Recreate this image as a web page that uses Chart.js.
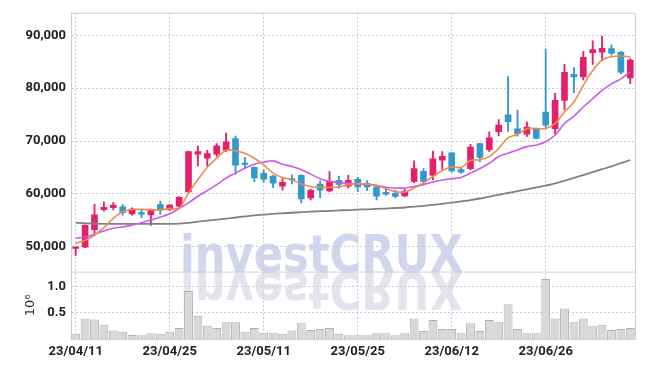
<!DOCTYPE html>
<html>
<head>
<meta charset="utf-8">
<script src="https://cdn.jsdelivr.net/npm/chart.js@4.4.0/dist/chart.umd.min.js"></script>
<style>
	html, body { margin: 0; padding: 0; background: #fff; }
	#wrap { width: 645px; height: 366px; }
</style>
</head>
<body>
<div id="wrap"><canvas id="chart"></canvas></div>
<script>
'use strict';

const dates = [
	'23/04/11', '23/04/12', '23/04/13', '23/04/14', '23/04/17', '23/04/18', '23/04/19', '23/04/20', '23/04/21', '23/04/24',
	'23/04/25', '23/04/26', '23/04/27', '23/04/28', '23/05/02', '23/05/03', '23/05/04', '23/05/08', '23/05/09', '23/05/10',
	'23/05/11', '23/05/12', '23/05/15', '23/05/16', '23/05/17', '23/05/18', '23/05/19', '23/05/22', '23/05/23', '23/05/24',
	'23/05/25', '23/05/26', '23/05/30', '23/05/31', '23/06/01', '23/06/02', '23/06/05', '23/06/07', '23/06/08', '23/06/09',
	'23/06/12', '23/06/13', '23/06/14', '23/06/15', '23/06/16', '23/06/19', '23/06/20', '23/06/21', '23/06/22', '23/06/23',
	'23/06/26', '23/06/27', '23/06/28', '23/06/29', '23/06/30', '23/07/03', '23/07/04', '23/07/05', '23/07/06', '23/07/07'
];

const opens = [
	49650, 49900, 53200, 57000, 57350, 57500, 56200, 56450, 56000, 57950,
	57050, 57650, 60350, 67500, 66750, 67500, 68250, 70450, 65750, 65000,
	63850, 63350, 61450, 62850, 63500, 59200, 61850, 60550, 62550, 61450,
	62750, 62000, 61300, 60250, 60100, 59600, 62350, 64250, 63500, 66350,
	67750, 64600, 64750, 69500, 68350, 71750, 74950, 72300, 71300, 72350,
	75500, 72350, 77700, 82650, 82150, 86750, 86850, 87500, 86800, 81950
];
const highs = [
	49700, 54100, 58000, 58450, 58350, 58000, 57350, 57100, 57100, 58600,
	57950, 59450, 68050, 69050, 68250, 69500, 71500, 70950, 66900, 65100,
	64550, 63500, 62950, 63600, 63600, 60900, 62400, 64200, 63350, 63500,
	63100, 62500, 61400, 61100, 60700, 60850, 66250, 64750, 68100, 68000,
	67800, 65000, 69350, 69600, 71750, 74050, 82200, 75850, 73650, 72450,
	87400, 79050, 84550, 83900, 87000, 89000, 89850, 88250, 87000, 85600
];
const lows = [
	48300, 49800, 52500, 56700, 56950, 55950, 55950, 55450, 54000, 56100,
	56850, 57550, 60300, 65300, 65300, 67100, 68000, 63700, 64850, 62300,
	62150, 61150, 60700, 61850, 58250, 58850, 59200, 60350, 61050, 61100,
	60400, 60600, 58850, 59700, 59200, 59450, 62100, 62000, 62600, 64600,
	64100, 63850, 64500, 66100, 68000, 70950, 71800, 70900, 70850, 70400,
	72350, 71400, 75950, 79150, 81600, 84500, 85250, 86250, 82700, 80850
];
const closes = [
	49700, 54000, 56000, 57450, 57850, 56400, 57100, 56150, 56950, 56900,
	57850, 59300, 68000, 68000, 67600, 69100, 69850, 65400, 65550, 63000,
	62750, 62000, 62150, 62600, 59000, 60650, 60700, 62350, 61750, 62550,
	61300, 61300, 59550, 59900, 59500, 60450, 64750, 62350, 66600, 67100,
	64350, 64100, 68850, 66900, 70600, 73000, 73650, 71450, 72650, 70500,
	73000, 77700, 83000, 82150, 85850, 87350, 87550, 86650, 83050, 85350
];

// moving averages
const ma5 = [
	50640, 51200, 52140, 53570, 55340, 56580, 57030, 57030, 56960, 56960,
	57200, 57330, 60150, 62670, 65040, 66730, 68240, 68120, 67670, 66730,
	65490, 63910, 63100, 62670, 61840, 61360, 61220, 61220, 61280, 61730,
	61920, 61840, 61560, 60980, 60410, 60340, 61090, 62030, 63290, 64360,
	65120, 64980, 66300, 66450, 67050, 68610, 70620, 71240, 72320, 72370,
	72370, 73310, 75510, 77390, 80530, 83350, 85350, 85980, 86100, 85980
];
const ma10 = [
	51580, 51820, 52330, 52950, 53460, 53700, 54080, 54510, 55020, 55580,
	56200, 57220, 58270, 59530, 60600, 61730, 62970, 63910, 64850, 65600,
	65980, 66240, 65600, 65170, 64550, 63720, 62860, 62350, 62110, 61980,
	61840, 61730, 61600, 61220, 61090, 61090, 61350, 61730, 62220, 62600,
	62860, 63100, 63910, 64800, 65790, 67050, 67670, 68310, 68930, 69250,
	69870, 71130, 73310, 74700, 76450, 78010, 79590, 80830, 81770, 83160
];
const ma60 = [
	54500, 54400, 54350, 54300, 54300, 54300, 54300, 54300, 54300, 54300,
	54300, 54350, 54500, 54700, 54900, 55100, 55300, 55500, 55700, 55900,
	56050, 56200, 56300, 56400, 56500, 56600, 56700, 56750, 56850, 56900,
	57000, 57050, 57150, 57200, 57300, 57400, 57550, 57700, 57900, 58100,
	58300, 58550, 58800, 59100, 59450, 59800, 60150, 60500, 60850, 61200,
	61550, 61950, 62450, 63000, 63550, 64100, 64650, 65200, 65800, 66400
];

// volume in millions of shares
const volumes = [
	0.10, 0.39, 0.37, 0.27, 0.16, 0.14, 0.075, 0.07, 0.11, 0.10,
	0.14, 0.21, 0.91, 0.44, 0.25, 0.21, 0.32, 0.32, 0.14, 0.21,
	0.12, 0.12, 0.10, 0.16, 0.30, 0.17, 0.19, 0.21, 0.10, 0.07,
	0.07, 0.07, 0.11, 0.11, 0.07, 0.11, 0.39, 0.15, 0.36, 0.19,
	0.19, 0.11, 0.30, 0.15, 0.36, 0.32, 0.66, 0.19, 0.11, 0.11,
	1.14, 0.39, 0.58, 0.32, 0.39, 0.24, 0.27, 0.17, 0.19, 0.21
];

const priceTicks = [50000, 60000, 70000, 80000, 90000];
const volumeTicks = [0.5, 1.0];

const UP = '#e5206b';
const DOWN = '#3399cc';
const GRID = '#c8cadf';
const FRAME = '#cfcfcf';
const TICK_FONT = {family: "Roboto, 'DejaVu Sans Condensed', sans-serif", size: 13, weight: 'bold'};

const candleColors = closes.map((c, i) => c >= opens[i] ? UP : DOWN);

const watermark = {
	id: 'watermark',
	beforeDraw(chart) {
		const ctx = chart.ctx;
		const area = chart.chartArea;
		const baseline = chart.scales.y.bottom;
		const x0 = area.left + 109;
		const text = 'investCRUX';

		ctx.save();
		ctx.font = "bold 51px 'DejaVu Sans', sans-serif";
		ctx.textBaseline = 'alphabetic';
		const sx = 283 / ctx.measureText(text).width;

		ctx.save();
		ctx.translate(x0, baseline);
		ctx.scale(sx, 1);
		ctx.fillStyle = 'rgba(200,207,232,0.85)';
		ctx.fillText(text, 0, 0);
		ctx.restore();

		ctx.save();
		ctx.translate(x0, baseline);
		ctx.scale(sx, -1);
		const grad = ctx.createLinearGradient(0, 0, 0, 46);
		grad.addColorStop(0, 'rgba(226,226,236,0.95)');
		grad.addColorStop(1, 'rgba(226,226,236,0.2)');
		ctx.fillStyle = grad;
		ctx.fillText(text, 0, 0);
		ctx.restore();

		ctx.restore();
	},
	beforeDatasetsDraw(chart) {
		const ctx = chart.ctx;
		const area = chart.chartArea;
		const sep = chart.scales.y.bottom;
		ctx.save();
		ctx.strokeStyle = FRAME;
		ctx.lineWidth = 1;
		ctx.beginPath();
		ctx.moveTo(area.left, area.top + 0.5);
		ctx.lineTo(area.right + 0.5, area.top + 0.5);
		ctx.lineTo(area.right + 0.5, area.bottom);
		ctx.moveTo(area.left, sep + 0.5);
		ctx.lineTo(area.right, sep + 0.5);
		ctx.stroke();
		ctx.restore();
	}
};

const maLine = (label, data, color, width) => ({
	type: 'line',
	label: label,
	data: data,
	yAxisID: 'y',
	borderColor: color,
	borderWidth: width,
	pointRadius: 0,
	tension: 0.35,
	fill: false,
	order: 0
});

new Chart(document.getElementById('chart'), {
	type: 'bar',
	data: {
		labels: dates,
		datasets: [
			maLine('MA5', ma5, '#f08a4b', 1.6),
			maLine('MA10', ma10, '#cc58ec', 1.6),
			maLine('MA60', ma60, '#808080', 1.8),
			{
				label: 'wick',
				data: lows.map((l, i) => [l, highs[i]]),
				yAxisID: 'y',
				backgroundColor: candleColors,
				barThickness: 1.2,
				grouped: false,
				order: 2
			},
			{
				label: 'body',
				data: opens.map((o, i) => [o, closes[i]]),
				yAxisID: 'y',
				backgroundColor: candleColors,
				barThickness: 6,
				minBarLength: 1.5,
				grouped: false,
				order: 1
			},
			{
				label: 'volume',
				data: volumes,
				yAxisID: 'yv',
				backgroundColor: '#d8d8d8',
				borderColor: '#b0b0b0',
				borderWidth: 1,
				barPercentage: 1,
				categoryPercentage: 0.94,
				grouped: false,
				order: 3
			}
		]
	},
	options: {
		responsive: true,
		maintainAspectRatio: false,
		animation: false,
		layout: {padding: {top: 10, right: 10, left: 0, bottom: 0}},
		plugins: {
			legend: {display: false},
			tooltip: {enabled: false}
		},
		scales: {
			x: {
				offset: true,
				grid: {
					offset: false,
					drawTicks: false,
					color: (ctx) => ctx.index % 10 === 0 ? GRID : 'transparent'
				},
				border: {color: FRAME, dash: [2, 2]},
				ticks: {
					autoSkip: false,
					maxRotation: 0,
					padding: 5,
					color: '#222',
					font: TICK_FONT,
					callback: (v, i) => i % 10 === 0 ? dates[i] : ''
				},
				afterFit: (s) => { s.height = 27; }
			},
			yv: {
				type: 'linear',
				position: 'left',
				stack: 'pane',
				stackWeight: 68,
				min: 0,
				max: 1.28,
				afterBuildTicks: (s) => { s.ticks = volumeTicks.map(v => ({value: v})); },
				grid: {color: GRID, drawTicks: false},
				border: {color: FRAME, dash: [2, 2]},
				ticks: {
					padding: 5,
					color: '#222',
					font: TICK_FONT,
					callback: (v) => v.toFixed(1)
				},
				title: {
					display: true,
					text: '10⁶',
					color: '#333',
					font: {family: "'DejaVu Sans', sans-serif", size: 13},
					padding: {top: 23, bottom: 0}
				},
				afterFit: (s) => { s.width = 71; }
			},
			y: {
				type: 'linear',
				position: 'left',
				stack: 'pane',
				stackWeight: 261,
				min: 45250,
				max: 94300,
				afterBuildTicks: (s) => { s.ticks = priceTicks.map(v => ({value: v})); },
				grid: {color: GRID, drawTicks: false},
				border: {color: FRAME, dash: [2, 2]},
				ticks: {
					padding: 5,
					color: '#222',
					font: TICK_FONT,
					callback: (v) => v.toLocaleString('en-US')
				},
				afterFit: (s) => { s.width = 71; }
			}
		}
	},
	plugins: [watermark]
});
</script>
</body>
</html>
